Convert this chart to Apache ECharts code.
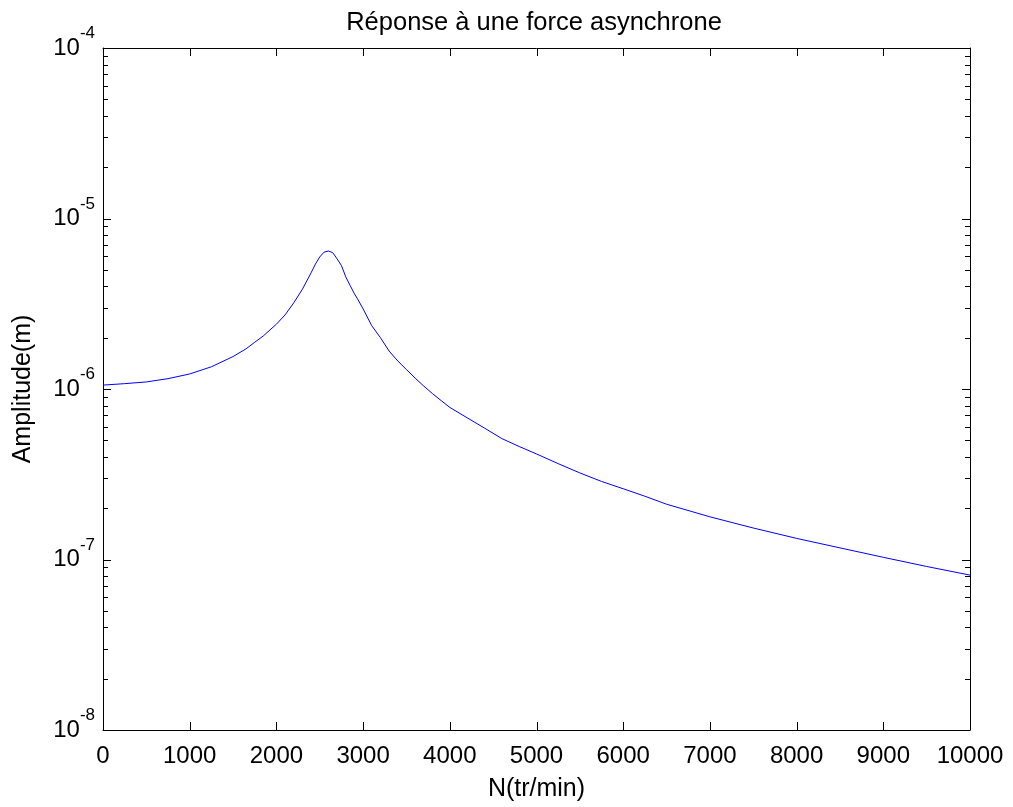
<!DOCTYPE html>
<html>
<head>
<meta charset="utf-8">
<script src="https://cdn.jsdelivr.net/npm/echarts@6/dist/echarts.min.js"></script>
<style>
  html, body { margin: 0; padding: 0; background: #ffffff; }
  #chart { width: 1013px; height: 807px; }
</style>
</head>
<body>
<div id="chart"></div>
<script>
// Rotor speed (tr/min) and response amplitude (m)
const speedRpm = [
  0, 250, 500, 750, 1000, 1250, 1500, 1650, 1750, 1850,
  2000, 2100, 2200, 2300, 2400, 2450, 2500, 2550, 2600, 2650,
  2700, 2750, 2800, 2850, 2900, 2950, 3000, 3100, 3200, 3300,
  3400, 3500, 3600, 3700, 3800, 3900, 4000, 4200, 4400, 4600,
  4800, 5000, 5250, 5500, 5750, 6000, 6250, 6500, 7000, 7500,
  8000, 8500, 9000, 9500, 10000
];
const amplitudeM = [
  1.054e-6, 1.075e-6, 1.10e-6, 1.15e-6, 1.225e-6, 1.35e-6, 1.55e-6, 1.72e-6, 1.88e-6, 2.05e-6,
  2.40e-6, 2.72e-6, 3.20e-6, 3.85e-6, 4.80e-6, 5.40e-6, 5.95e-6, 6.35e-6, 6.45e-6, 6.30e-6,
  5.80e-6, 5.30e-6, 4.55e-6, 4.05e-6, 3.62e-6, 3.28e-6, 2.95e-6, 2.35e-6, 2.00e-6, 1.67e-6,
  1.46e-6, 1.30e-6, 1.16e-6, 1.04e-6, 9.4e-7, 8.55e-7, 7.8e-7, 6.78e-7, 5.9e-7, 5.12e-7,
  4.6e-7, 4.16e-7, 3.65e-7, 3.22e-7, 2.87e-7, 2.6e-7, 2.35e-7, 2.11e-7, 1.78e-7, 1.53e-7,
  1.33e-7, 1.17e-7, 1.03e-7, 9.1e-8, 8.1e-8
];

// Axis ranges and tick layout
const xMin = 0, xMax = 10000, xStep = 1000;
const xTickValues = [0, 1000, 2000, 3000, 4000, 5000, 6000, 7000, 8000, 9000, 10000];
const yMin = 1e-8, yMax = 1e-4;
const yDecadeValues = [1e-8, 1e-7, 1e-6, 1e-5, 1e-4];
const minorMultipliers = [2, 3, 4, 5, 6, 7, 8, 9];

const FONT = '"Liberation Sans", Arial, Helvetica, sans-serif';
const MAJOR_LEN = 8;
const MINOR_LEN = 5;
const TICK_COLOR = '#000000';

const minorTickValues = [];
yDecadeValues.slice(0, -1).forEach(function (d) {
  minorMultipliers.forEach(function (m) {
    minorTickValues.push([xMin, m * d, MINOR_LEN]);
  });
});
const majorYTickValues = yDecadeValues.map(function (d) { return [xMin, d, MAJOR_LEN]; });
const majorXTickValues = xTickValues.map(function (x) { return [x, yMin, MAJOR_LEN]; });

const lineData = speedRpm.map(function (n, i) { return [n, amplitudeM[i]]; });

const chart = echarts.init(document.getElementById('chart'));

const axisLineStyle = { color: '#000000', width: 1 };
const crisp = function (v) { return Math.round(v) + 0.5; };

// horizontal tick marks on the left and right edges of the box
function renderYTicks(params, api) {
  const v = api.value(1);
  const len = api.value(2);
  const pL = api.coord([xMin, v]).slice();
  const pR = api.coord([xMax, v]).slice();
  const y = crisp(pL[1]);
  return {
    type: 'group',
    children: [
      { type: 'line', shape: { x1: pL[0], y1: y, x2: pL[0] + len, y2: y }, style: { stroke: TICK_COLOR, lineWidth: 1 } },
      { type: 'line', shape: { x1: pR[0], y1: y, x2: pR[0] - len, y2: y }, style: { stroke: TICK_COLOR, lineWidth: 1 } }
    ]
  };
}

// vertical tick marks on the bottom and top edges of the box
function renderXTicks(params, api) {
  const x = api.value(0);
  const len = api.value(2);
  const pB = api.coord([x, yMin]).slice();
  const pT = api.coord([x, yMax]).slice();
  const px = crisp(pB[0]);
  return {
    type: 'group',
    children: [
      { type: 'line', shape: { x1: px, y1: pB[1], x2: px, y2: pB[1] - len }, style: { stroke: TICK_COLOR, lineWidth: 1 } },
      { type: 'line', shape: { x1: px, y1: pT[1], x2: px, y2: pT[1] + len }, style: { stroke: TICK_COLOR, lineWidth: 1 } }
    ]
  };
}

chart.setOption({
  animation: false,
  backgroundColor: '#ffffff',
  title: {
    text: 'Réponse à une force asynchrone',
    left: 529,
    top: 5,
    textAlign: 'center',
    textStyle: { fontFamily: FONT, fontSize: 25.5, fontWeight: 'normal', color: '#000000' }
  },
  grid: { left: 103, right: 43, top: 48, bottom: 76 },
  xAxis: [
    {
      type: 'value', min: xMin, max: xMax, interval: xStep,
      position: 'bottom',
      name: 'N(tr/min)', nameLocation: 'middle', nameGap: 47,
      nameTextStyle: { fontFamily: FONT, fontSize: 25, color: '#000000' },
      axisLine: { show: true, onZero: false, lineStyle: axisLineStyle },
      axisTick: { show: false },
      axisLabel: {
        fontFamily: FONT, fontSize: 24, color: '#000000', margin: 14,
        formatter: function (v) { return String(v); }
      },
      splitLine: { show: false }
    },
    {
      type: 'value', min: xMin, max: xMax, interval: xStep,
      position: 'top',
      axisLine: { show: true, onZero: false, lineStyle: axisLineStyle },
      axisTick: { show: false },
      axisLabel: { show: false },
      splitLine: { show: false }
    }
  ],
  yAxis: [
    {
      type: 'log', logBase: 10, min: yMin, max: yMax,
      position: 'left',
      name: 'Amplitude(m)', nameLocation: 'middle', nameGap: 67, nameRotate: 90,
      nameTextStyle: { fontFamily: FONT, fontSize: 25, color: '#000000' },
      axisLine: { show: true, onZero: false, lineStyle: axisLineStyle },
      axisTick: { show: false },
      axisLabel: {
        margin: 8,
        formatter: function (v) {
          return '{b|10}{s|' + Math.round(Math.log10(v)) + '}';
        },
        rich: {
          b: { fontFamily: FONT, fontSize: 24, color: '#000000' },
          s: { fontFamily: FONT, fontSize: 17, color: '#000000', padding: [0, 0, 29, 0] }
        }
      },
      splitLine: { show: false }
    },
    {
      type: 'log', logBase: 10, min: yMin, max: yMax,
      position: 'right',
      axisLine: { show: true, onZero: false, lineStyle: axisLineStyle },
      axisTick: { show: false },
      axisLabel: { show: false },
      splitLine: { show: false }
    }
  ],
  series: [
    {
      type: 'custom', clip: false, z: 10,
      xAxisIndex: 0, yAxisIndex: 0,
      data: minorTickValues.concat(majorYTickValues),
      renderItem: renderYTicks
    },
    {
      type: 'custom', clip: false, z: 10,
      xAxisIndex: 0, yAxisIndex: 0,
      data: majorXTickValues,
      renderItem: renderXTicks
    },
    {
      type: 'line',
      xAxisIndex: 0, yAxisIndex: 0,
      data: lineData,
      showSymbol: false,
      symbol: 'none',
      smooth: false,
      lineStyle: { color: '#0000ff', width: 1 }
    }
  ]
});
</script>
</body>
</html>
